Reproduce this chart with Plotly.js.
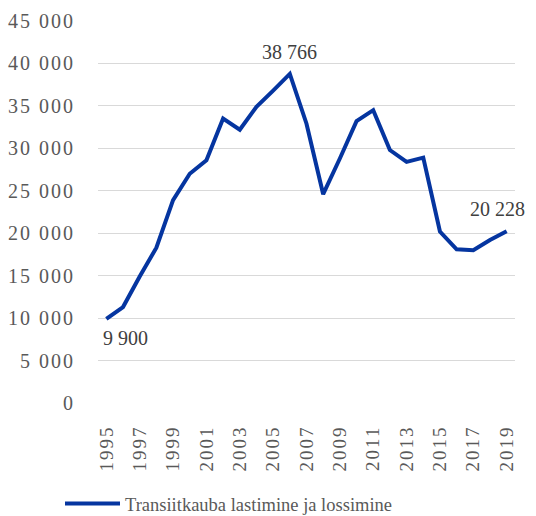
<!DOCTYPE html>
<html>
<head>
<meta charset="utf-8">
<script src="https://cdn.plot.ly/plotly-3.0.1.min.js"></script>
<style>
html,body{margin:0;padding:0;background:#fff;}
#chart{width:536px;height:516px;}
.xtick text,.ytick text{letter-spacing:2px;}
</style>
</head>
<body>
<div id="chart"></div>
<script>
var years = [1995,1996,1997,1998,1999,2000,2001,2002,2003,2004,2005,2006,2007,2008,2009,2010,2011,2012,2013,2014,2015,2016,2017,2018,2019];
var values = [9900,11300,14900,18300,23900,27000,28600,33500,32200,34900,36800,38766,32900,24600,28800,33200,34500,29800,28400,28900,20200,18100,18000,19200,20228];
var seriesName = 'Transiitkauba lastimine ja lossimine';
var tickYears = ['1995','1997','1999','2001','2003','2005','2007','2009','2011','2013','2015','2017','2019'];
var yTickVals = [0,5000,10000,15000,20000,25000,30000,35000,40000,45000];
var yTickText = ['0','5 000','10 000','15 000','20 000','25 000','30 000','35 000','40 000','45 000'];
var labelIdx = [0, 11, 24];
var labelText = ['9 900','38 766','20 228'];
var labelShift = [[19,-19],[0,22],[-9,22]];

var xcat = years.map(String);
var annotations = labelIdx.map(function(i,k){
  return {x: i, y: values[i], xref:'x', yref:'y', text: labelText[k], showarrow:false,
    xshift: labelShift[k][0], yshift: labelShift[k][1],
    font:{family:'Liberation Serif', size:20, color:'#404040'}};
});

var trace = {
  x: xcat, y: values, type:'scatter', mode:'lines', name: seriesName,
  line:{color:'#0535a0', width:4}
};

var layout = {
  width:536, height:516,
  margin:{l:98, r:21, t:21, b:113},
  paper_bgcolor:'#fff', plot_bgcolor:'#fff',
  font:{family:'Liberation Serif', color:'#595959', size:19},
  xaxis:{type:'category', categoryarray: xcat, range:[-0.5, years.length-0.5], autorange:false,
    tickvals: tickYears, ticktext: tickYears, tickangle:-90,
    showgrid:false, zeroline:false, showline:false,
    ticks:'outside', ticklen:14, tickcolor:'rgba(0,0,0,0)',
    tickfont:{family:'Liberation Serif', size:19, color:'#595959'}},
  yaxis:{range:[0,45000], autorange:false, tickvals:yTickVals, ticktext:yTickText,
    showgrid:true, gridcolor:'#d9d9d9', gridwidth:1, zeroline:false, showline:false,
    ticks:'outside', ticklen:18, tickcolor:'rgba(0,0,0,0)',
    tickfont:{family:'Liberation Serif', size:20, color:'#595959'}},
  showlegend:true,
  legend:{orientation:'h', x:60/536, xref:'container', xanchor:'left', y:12/516, yref:'container', yanchor:'middle',
    font:{family:'Liberation Serif', size:18.5, color:'#595959'}, itemwidth:55},
  annotations: annotations
};
Plotly.newPlot('chart',[trace],layout,{displayModeBar:false, staticPlot:true});
</script>
</body>
</html>
